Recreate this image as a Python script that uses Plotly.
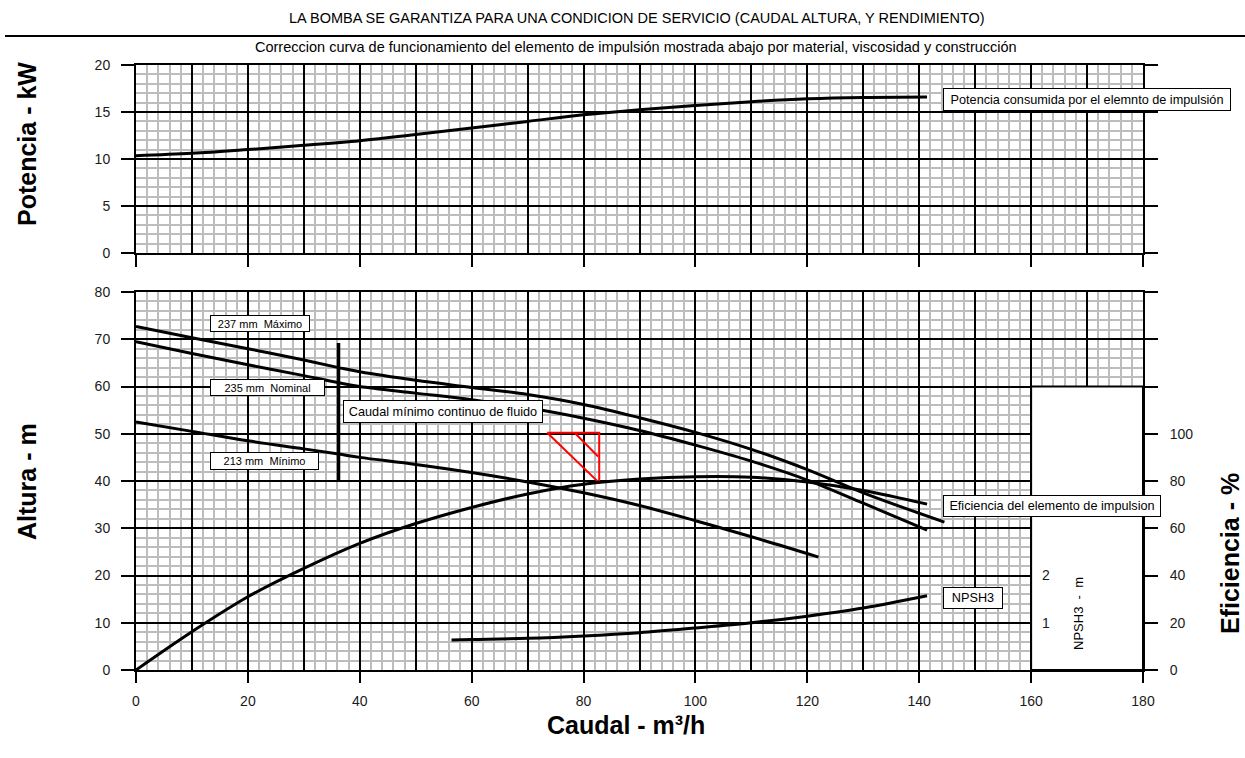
import plotly.graph_objects as go

# ---- Potencia consumida (kW) vs caudal (m3/h) ----
q_pot = [0, 10, 20, 30, 40, 50, 60, 70, 80, 90, 100, 110, 120, 130, 141.4]
pot_kw = [10.35, 10.6, 11.0, 11.45, 11.95, 12.6, 13.3, 14.0, 14.7, 15.25, 15.7, 16.1, 16.4, 16.55, 16.6]

# ---- Curvas de altura (m) por diametro de impulsor ----
q_max = [0, 10, 20, 30, 36.2, 40, 50, 60, 70, 80, 90, 100, 110, 120, 130, 144.5]
h_max = [72.7, 70.3, 68.0, 65.6, 64.0, 63.1, 61.3, 59.8, 58.3, 56.2, 53.4, 50.3, 46.7, 42.4, 37.5, 31.3]

q_nom = [0, 10, 20, 30, 36.2, 40, 50, 60, 70, 80, 90, 100, 110, 120, 130, 141.4]
h_nom = [69.5, 67.0, 64.6, 62.3, 60.8, 60.0, 58.6, 57.2, 55.5, 53.3, 50.7, 47.6, 44.2, 40.2, 35.3, 29.6]

q_min = [0, 10, 20, 30, 36.2, 40, 50, 60, 70, 80, 90, 100, 110, 122]
h_min = [52.5, 50.5, 48.5, 46.8, 45.7, 45.0, 43.5, 41.8, 39.8, 37.5, 34.8, 31.6, 28.2, 23.9]

# ---- Eficiencia (%) ----
q_eff = [0, 10, 20, 30, 40, 50, 60, 70, 80, 90, 100, 110, 120, 130, 141.4]
eff_pct = [0, 16.2, 31.0, 43.0, 53.6, 62.0, 68.8, 74.5, 78.6, 80.8, 81.8, 81.6, 79.6, 76.0, 70.2]

# ---- NPSH3 (m) ----
q_npsh = [56.4, 60, 70, 80, 90, 100, 110, 120, 130, 141.4]
npsh_m = [0.635, 0.645, 0.67, 0.72, 0.79, 0.89, 1.0, 1.14, 1.31, 1.57]

# ---- Caudal minimo continuo ----
q_minflow = [36.2, 36.2]
h_minflow = [40.0, 69.2]

# ---- Punto de servicio (triangulo rojo) ----
q_duty = [73.5, 82.8, 82.8, 73.5, None, 78.4, 82.6]
h_duty = [50.2, 50.2, 39.6, 50.2, None, 50.2, 45.2]

# ---- Escalas ----
x_ticks = [0, 20, 40, 60, 80, 100, 120, 140, 160, 180]
eff_ticks = [0, 20, 40, 60, 80, 100]
npsh_ticks = [1, 2]

FONT = "Arial, Liberation Sans, sans-serif"
GRID_MINOR = "#bdbdbd"
TICK_FONT = dict(family=FONT, size=14, color="#1a1a1a")

# layout geometry (pixels)
W, H = 1245, 758
ML, MR, MT, MB = 136, 102, 65, 88
PW, PH = W - ML - MR, H - MT - MB


def px_x(px):
    return (px - ML) / PW


def px_y(py):
    return (H - MB - py) / PH


fig = go.Figure()

LINE = dict(color="black", width=3)
fig.add_trace(go.Scatter(x=q_pot, y=pot_kw, mode="lines", line=dict(LINE, shape="spline"),
                         xaxis="x", yaxis="y", name="Potencia"))
fig.add_trace(go.Scatter(x=q_max, y=h_max, mode="lines", line=dict(LINE, shape="spline"),
                         xaxis="x2", yaxis="y2", name="237 mm"))
fig.add_trace(go.Scatter(x=q_nom, y=h_nom, mode="lines", line=dict(LINE, shape="spline"),
                         xaxis="x2", yaxis="y2", name="235 mm"))
fig.add_trace(go.Scatter(x=q_min, y=h_min, mode="lines", line=dict(LINE, shape="spline"),
                         xaxis="x2", yaxis="y2", name="213 mm"))
fig.add_trace(go.Scatter(x=q_minflow, y=h_minflow, mode="lines", line=dict(color="black", width=3.5),
                         xaxis="x2", yaxis="y2", name="Caudal minimo"))
fig.add_trace(go.Scatter(x=q_eff, y=eff_pct, mode="lines", line=dict(LINE, shape="spline"),
                         xaxis="x2", yaxis="y3", name="Eficiencia"))
fig.add_trace(go.Scatter(x=q_npsh, y=npsh_m, mode="lines", line=dict(LINE, shape="spline"),
                         xaxis="x2", yaxis="y4", name="NPSH3"))
fig.add_trace(go.Scatter(x=q_duty, y=h_duty, mode="lines", line=dict(color="red", width=2),
                         xaxis="x2", yaxis="y2", name="Servicio"))
# tick carriers for the overlay x axes
fig.add_trace(go.Scatter(x=[None], y=[None], xaxis="x3", yaxis="y", showlegend=False))
fig.add_trace(go.Scatter(x=[None], y=[None], xaxis="x4", yaxis="y2", showlegend=False))

grid_x = dict(range=[0, 180], dtick=10, tick0=0, showgrid=True, gridcolor="black", gridwidth=2,
              minor=dict(dtick=2, tick0=0, showgrid=True, gridcolor=GRID_MINOR, gridwidth=2),
              showline=True, linecolor="black", linewidth=2, mirror=True,
              ticks="", showticklabels=False, zeroline=False)
tick_x = dict(range=[0, 180], tickvals=x_ticks, ticks="outside", tickwidth=2, tickcolor="black",
              showgrid=False, showline=False, zeroline=False)

fig.update_layout(
    width=W, height=H,
    margin=dict(l=ML, r=MR, t=MT, b=MB),
    paper_bgcolor="white", plot_bgcolor="white",
    showlegend=False,
    font=dict(family=FONT, color="black"),
    xaxis=dict(grid_x, anchor="y"),
    xaxis2=dict(grid_x, anchor="y2"),
    xaxis3=dict(tick_x, overlaying="x", anchor="y", ticklen=13, showticklabels=False),
    xaxis4=dict(tick_x, overlaying="x2", anchor="y2", ticklen=12, showticklabels=True,
                tickfont=TICK_FONT, ticklabelstandoff=6),
    yaxis=dict(domain=[px_y(253), 1], range=[0, 20], dtick=5, tick0=0,
               showgrid=True, gridcolor="black", gridwidth=2,
               minor=dict(dtick=1, tick0=0, showgrid=True, gridcolor=GRID_MINOR, gridwidth=2),
               showline=True, linecolor="black", linewidth=2, mirror="ticks",
               ticks="outside", ticklen=13, tickwidth=2, tickcolor="black",
               tickfont=TICK_FONT, ticklabelstandoff=8, zeroline=False, anchor="x"),
    yaxis2=dict(domain=[0, px_y(292)], range=[0, 80], dtick=10, tick0=0,
                showgrid=True, gridcolor="black", gridwidth=2,
                minor=dict(dtick=2, tick0=0, showgrid=True, gridcolor=GRID_MINOR, gridwidth=2),
                showline=True, linecolor="black", linewidth=2, mirror="ticks",
                ticks="outside", ticklen=13, tickwidth=2, tickcolor="black",
                tickfont=TICK_FONT, ticklabelstandoff=8, zeroline=False, anchor="x2"),
    yaxis3=dict(overlaying="y2", side="right", anchor="x2", range=[0, 160], tickvals=eff_ticks,
                ticks="outside", ticklen=13, tickwidth=2, tickcolor="black",
                showgrid=False, showline=False, zeroline=False,
                tickfont=TICK_FONT, ticklabelstandoff=10),
    yaxis4=dict(overlaying="y2", side="right", anchor="free", position=160 / 180, range=[0, 8],
                tickvals=npsh_ticks, ticks="", showgrid=False, showline=False, zeroline=False,
                tickfont=TICK_FONT, ticklabelstandoff=10),
)

# blank NPSH scale panel
fig.add_shape(type="rect", xref="x2", yref="y2", x0=160, x1=180, y0=0, y1=60,
              fillcolor="white", line=dict(color="black", width=2), layer="between")

# rule under the main heading
fig.add_shape(type="line", xref="paper", yref="paper", x0=px_x(5), x1=px_x(1245),
              y0=px_y(36), y1=px_y(36), line=dict(color="black", width=2))


def paper_text(text, px, py, font, angle=0):
    fig.add_annotation(text=text, xref="paper", yref="paper", x=px_x(px), y=px_y(py),
                       xanchor="center", yanchor="middle", textangle=angle,
                       showarrow=False, font=font)


# headings
HEAD_FONT = dict(family=FONT, size=14.5, color="black")
paper_text("LA BOMBA SE GARANTIZA PARA UNA CONDICION DE SERVICIO (CAUDAL ALTURA, Y RENDIMIENTO)",
           637, 18, HEAD_FONT)
paper_text("Correccion curva de funcionamiento del elemento de impulsión mostrada abajo por material, viscosidad y construcción",
           636, 47, HEAD_FONT)

# axis titles
TITLE_FONT = dict(family=FONT, size=25, color="black", weight="bold")
paper_text("Potencia - kW", 27, 144, TITLE_FONT, -90)
paper_text("Altura - m", 27, 482, TITLE_FONT, -90)
paper_text("Eficiencia - %", 1230, 554, TITLE_FONT, -90)
paper_text("Caudal - m³/h", 626, 725, TITLE_FONT)
fig.add_annotation(text="NPSH3  -  m", xref="x2", yref="y2", x=168.5, y=12.0,
                   xanchor="center", yanchor="middle",
                   textangle=-90, showarrow=False, font=dict(family=FONT, size=13, color="black"))

# boxed curve labels
SMALL = dict(family=FONT, size=11, color="black")
LARGE = dict(family=FONT, size=12.7, color="black")


def boxed(text, x, y, w, h, font, xref="x2", yref="y2"):
    fig.add_annotation(text=text, xref=xref, yref=yref, x=x, y=y, showarrow=False,
                       xanchor="center", yanchor="middle",
                       font=font, bgcolor="white", bordercolor="black", borderwidth=1,
                       borderpad=1, width=w - 4, height=h - 4, align="center")


boxed("Potencia consumida por el elemnto de impulsión", 169.9, 16.38, 288, 23, LARGE, xref="x", yref="y")
boxed("237 mm  Máximo", 22.2, 73.3, 100, 17, SMALL)
boxed("235 mm  Nominal", 23.5, 59.8, 115, 17, SMALL)
boxed("213 mm  Mínimo", 23.0, 44.3, 109, 18, SMALL)
boxed("Caudal mínimo continuo de fluido", 54.9, 54.75, 200, 23, LARGE)
boxed("Eficiencia del elemento de impulsion", 163.8, 34.8, 218, 22, LARGE)
boxed("NPSH3", 149.6, 15.2, 60, 22, LARGE)

fig.write_html("out.html")
